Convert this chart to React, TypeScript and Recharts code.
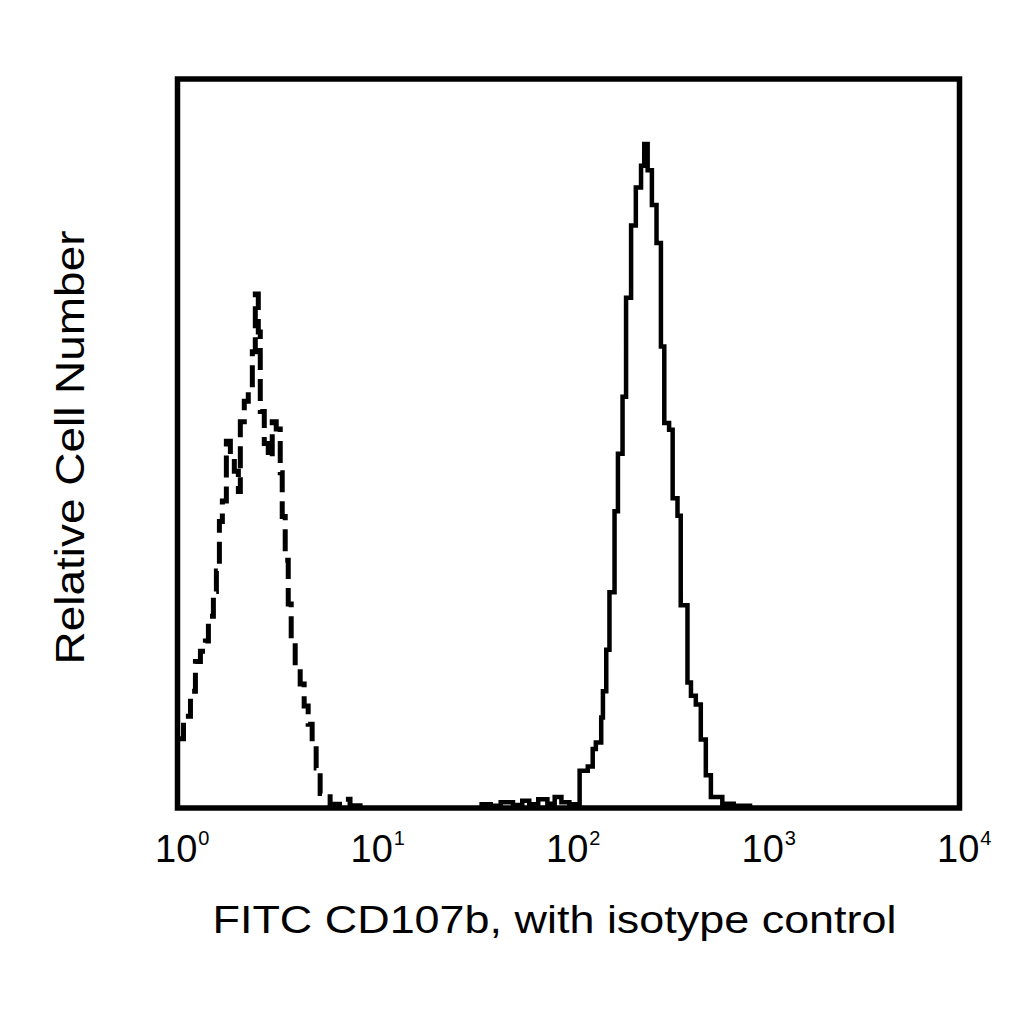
import React from "react"
import { LineChart, Line, XAxis, YAxis, ReferenceArea } from "recharts"

// log decades shown on the x axis
const X_TICKS = [1, 10, 100, 1000, 10000]

// isotype control (dashed histogram)
const ISOTYPE_X = [
  1.0, 1.073, 1.165, 1.235, 1.31, 1.389, 1.439, 1.526, 1.581, 1.638, 1.696, 1.778, 1.864, 1.953, 2.048,
  2.096, 2.196, 2.302, 2.414, 2.5, 2.59, 2.651, 2.779, 2.912, 3.052, 3.199, 3.354, 3.433, 3.556, 3.685,
  3.816, 4.0, 4.242, 4.446, 4.66, 4.884, 5.12, 5.366, 6.035, 7.03, 7.63, 8.59,
]
const ISOTYPE_Y = [
  9.5, 12.6, 16.0, 20.1, 21.5, 22.9, 26.3, 29.7, 32.5, 39.3, 42.1, 50.3, 48.9, 46.2, 43.4,
  53.0, 55.8, 57.1, 62.6, 70.5, 65.3, 54.4, 50.0, 48.0, 53.0, 52.0, 46.0, 40.0, 34.0, 28.0,
  23.0, 19.5, 17.0, 14.0, 11.5, 8.5, 5.5, 2.0, 0.5, 1.2, 0.3, 0,
]

// FITC CD107b (solid histogram)
const CD107B_X = [
  35, 40, 45, 52, 58, 63, 70, 78, 85, 92, 101, 114, 125.5, 133, 138, 147, 150, 156, 162, 172, 179, 189,
  197, 209, 221, 235, 244, 254, 267, 282, 297, 309, 327, 341, 361, 375, 406, 423, 448, 475, 504, 535,
  612, 700, 871,
]
const CD107B_Y = [
  0.5, 0.3, 0.8, 0.4, 1.0, 0.5, 1.2, 0.6, 1.5, 0.8, 0.5, 5.1, 5.7, 8.1, 9.0, 12.4, 16.0, 21.7, 29.6,
  40.7, 48.6, 56.4, 70.0, 79.9, 85.1, 88.1, 91.1, 87.5, 82.7, 77.5, 63.3, 52.8, 51.9, 42.5, 40.1, 27.8,
  17.2, 15.4, 14.2, 9.4, 4.5, 1.5, 0.6, 0.3, 0.3,
]

const isotypeData = ISOTYPE_X.map((x, i) => ({ x, y: ISOTYPE_Y[i] }))
const cd107bData = CD107B_X.map((x, i) => ({ x, y: CD107B_Y[i] }))

const FONT = "'Liberation Sans', Arial, sans-serif"

function PowerTick(props: any) {
  const { x, y, payload } = props
  const exp = Math.round(Math.log10(payload.value))
  return (
    <text
      x={x - 22.5}
      y={y + 54}
      textAnchor="start"
      fill="#000"
      style={{ fontFamily: FONT, fontSize: 38 }}
    >
      <tspan>10</tspan>
      <tspan dx={1} dy={-17} style={{ fontSize: 20 }}>
        {exp}
      </tspan>
    </text>
  )
}

export default function App() {
  return (
    <div style={{ position: "absolute", left: 0, top: 0, width: 1024, height: 1024, background: "#fff" }}>
      <LineChart width={1024} height={1024} margin={{ top: 79, right: 64.5, left: 0, bottom: 0 }}>
        <XAxis
          dataKey="x"
          type="number"
          scale="log"
          domain={[1, 10000]}
          ticks={X_TICKS}
          allowDataOverflow
          axisLine={false}
          tickLine={false}
          tickSize={0}
          tickMargin={0}
          height={216}
          interval={0}
          tick={<PowerTick />}
          label={{
            content: (p: any) => {
              const vb = p.viewBox
              return (
                <text
                  x={vb.x + vb.width / 2 - 14}
                  y={vb.y + 125}
                  textAnchor="middle"
                  textLength={684}
                  lengthAdjust="spacingAndGlyphs"
                  fill="#000"
                  style={{ fontFamily: FONT, fontSize: 38 }}
                >
                  FITC CD107b, with isotype control
                </text>
              )
            },
          }}
        />
        <YAxis
          type="number"
          domain={[0, 100]}
          width={177.5}
          axisLine={false}
          tickLine={false}
          tick={false}
          label={{
            content: (p: any) => {
              const vb = p.viewBox
              const cy = vb.y + vb.height / 2 + 4
              return (
                <text
                  x={84}
                  y={cy}
                  transform={`rotate(-90 84 ${cy})`}
                  textAnchor="middle"
                  textLength={434}
                  lengthAdjust="spacingAndGlyphs"
                  fill="#000"
                  style={{ fontFamily: FONT, fontSize: 40 }}
                >
                  Relative Cell Number
                </text>
              )
            },
          }}
        />
        <Line
          data={isotypeData}
          dataKey="y"
          type="stepAfter"
          stroke="#000"
          strokeWidth={5}
          strokeDasharray="22 9"
          dot={false}
          activeDot={false}
          isAnimationActive={false}
        />
        <Line
          data={cd107bData}
          dataKey="y"
          type="stepAfter"
          stroke="#000"
          strokeWidth={4.5}
          dot={false}
          activeDot={false}
          isAnimationActive={false}
        />
        <ReferenceArea
          x1={1}
          x2={10000}
          y1={0}
          y2={100}
          stroke="#000"
          strokeWidth={5.5}
          fill="none"
          fillOpacity={0}
          ifOverflow="visible"
        />
      </LineChart>
    </div>
  )
}
